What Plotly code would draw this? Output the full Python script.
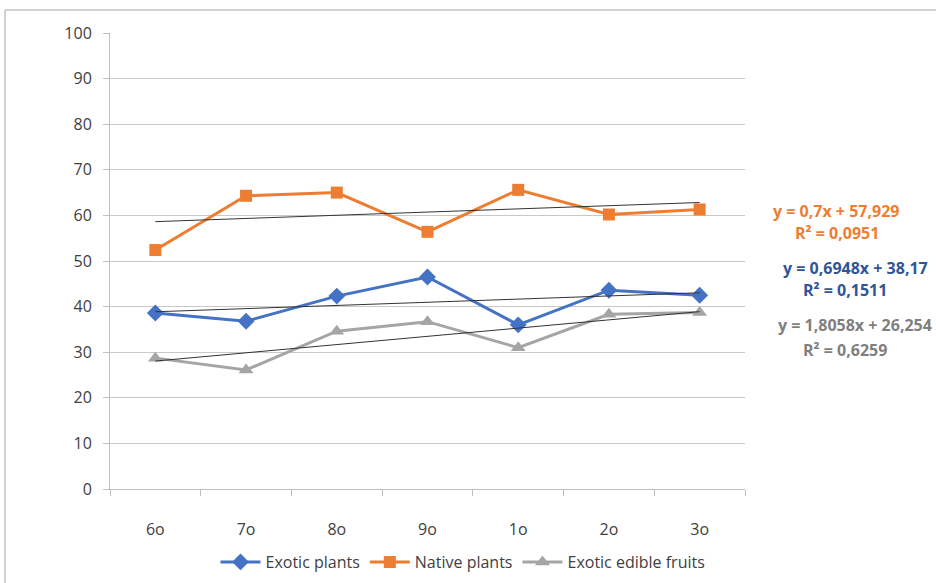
import plotly.graph_objects as go

categories = ["6o", "7o", "8o", "9o", "1o", "2o", "3o"]
exotic_plants = [38.6, 36.8, 42.3, 46.5, 36.0, 43.6, 42.5]
native_plants = [52.4, 64.3, 65.0, 56.4, 65.6, 60.2, 61.3]
exotic_edible = [28.7, 26.1, 34.6, 36.7, 31.0, 38.3, 38.7]

# trendline coefficients (slope, intercept) as shown on chart
trend_slopes = [0.6948, 0.7, 1.8058]
trend_intercepts = [38.17, 57.929, 26.254]
eq_texts = [
    ("y = 0,7x + 57,929", "R² = 0,0951"),
    ("y = 0,6948x + 38,17", "R² = 0,1511"),
    ("y = 1,8058x + 26,254", "R² = 0,6259"),
]

names = ["Exotic plants", "Native plants", "Exotic edible fruits"]
colors = ["#4472C4", "#ED7D31", "#A5A5A5"]
symbols = ["diamond", "square", "triangle-up"]
sizes = [13, 12, 13]
series = [exotic_plants, native_plants, exotic_edible]

fig = go.Figure()
for name, vals, c, s, sz in zip(names, series, colors, symbols, sizes):
    fig.add_trace(go.Scatter(x=categories, y=vals, name=name, mode="lines+markers",
                             line=dict(color=c, width=3),
                             marker=dict(symbol=s, size=sz, color=c)))

idx = list(range(1, len(categories) + 1))
for m, b in zip(trend_slopes, trend_intercepts):
    fig.add_trace(go.Scatter(x=categories, y=[m * i + b for i in idx], mode="lines",
                             line=dict(color="#333333", width=1), showlegend=False,
                             hoverinfo="skip"))

# equation annotations
eq_colors = ["#ED7D31", "#2F5597", "#7F7F7F"]
eq_pos = [(836, 211, 837, 233), (855, 268, 845, 290), (855, 325, 845, 350)]
for (t1, t2), c, (x1, y1, x2, y2) in zip(eq_texts, eq_colors, eq_pos):
    for t, px, py in ((t1, x1, y1), (t2, x2, y2)):
        fig.add_annotation(text=f"<b>{t}</b>", x=(px - 110) / 635, xref="paper",
                           y=(489 - py) / 4.56, yref="y", showarrow=False,
                           font=dict(color=c, size=16, family="Open Sans"),
                           xanchor="center", yanchor="middle")

fig.add_shape(type="rect", xref="paper", yref="paper",
              x0=(5 - 110) / 635, x1=1.6, y0=-0.6, y1=(489 - 10) / 456,
              line=dict(color="#A6A6A6", width=1), fillcolor="rgba(0,0,0,0)", layer="below")

fig.update_layout(
    width=936, height=583,
    margin=dict(l=110, r=191, t=33, b=94, autoexpand=False),
    paper_bgcolor="white", plot_bgcolor="white",
    font=dict(family="Open Sans", size=16, color="#333333"),
    showlegend=True,
    legend=dict(orientation="h", x=(463 - 110) / 635, xanchor="center",
                yref="container", y=(583 - 562) / 583, yanchor="middle",
                font=dict(size=16, color="#404040"), itemwidth=40),
    xaxis=dict(type="category", range=[-0.5, len(categories) - 0.5],
               tickson="boundaries", ticks="outside", ticklen=6,
               tickcolor="#BFBFBF", showline=True, linecolor="#BFBFBF", linewidth=1,
               showgrid=False, tickfont=dict(size=16, color="#404040"),
               ticklabelstandoff=26, automargin=False),
    yaxis=dict(range=[0, 100], dtick=10, ticks="outside", ticklen=6, tickcolor="#BFBFBF",
               showline=True, linecolor="#BFBFBF", linewidth=1,
               showgrid=True, gridcolor="#C8C8C8", gridwidth=1, zeroline=False,
               tickfont=dict(size=16, color="#404040"), ticklabelstandoff=8,
               automargin=False),
)

fig.write_html("out.html", config={"displayModeBar": False},
               post_script="document.body.style.margin='0';document.body.style.overflow='hidden';")
